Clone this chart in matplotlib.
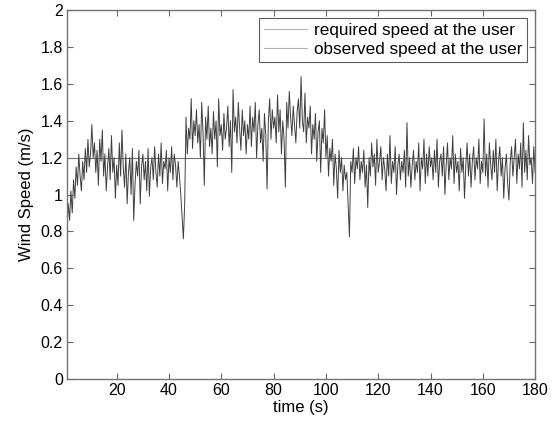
import numpy as np
import matplotlib
matplotlib.use("Agg")
import matplotlib.pyplot as plt

plt.rcParams['font.family'] = ['Liberation Sans', 'DejaVu Sans']

required_speed = 1.2
observed = [
    0.82,0.95,0.86,1.02,0.90,1.08,0.98,1.15,1.05,1.22,1.10,1.02,1.18,1.08,1.25,1.12,1.30,1.15,1.22,1.38,
    1.20,1.28,1.12,1.24,1.05,1.30,1.18,1.35,1.10,1.22,1.02,1.15,1.25,1.08,1.32,1.12,1.20,0.98,1.16,1.05,
    1.28,1.10,1.35,1.15,1.04,1.22,0.95,1.12,1.20,1.00,1.25,0.86,1.05,1.18,1.10,1.24,0.95,1.15,1.22,1.08,
    1.18,1.02,1.25,0.99,1.15,1.20,1.08,1.26,1.12,1.04,1.22,1.10,1.28,1.06,1.18,1.14,1.24,1.02,1.20,1.12,
    1.26,1.08,1.22,1.16,1.04,1.18,1.10,1.00,0.88,0.76,
    0.95,1.42,1.22,1.36,1.30,1.52,1.25,1.40,1.32,1.46,
    1.28,1.38,1.20,1.50,1.34,1.05,1.42,1.30,1.48,1.26,1.36,1.22,1.45,1.30,1.40,1.15,1.52,1.32,1.38,1.24,
    1.44,1.30,1.36,1.48,1.26,1.40,1.12,1.57,1.34,1.42,1.28,1.50,1.36,1.24,1.46,1.32,1.40,1.22,1.38,1.30,
    1.48,1.26,1.42,1.34,1.50,1.20,1.38,1.46,1.28,1.36,1.18,1.44,1.32,1.03,1.40,1.52,1.30,1.46,1.36,1.42,
    1.28,1.54,1.34,1.46,1.22,1.40,1.30,1.04,1.50,1.36,1.56,1.42,1.32,1.48,1.38,1.28,1.45,1.52,1.36,1.64,
    1.40,1.34,1.55,1.28,1.42,1.36,1.48,1.22,1.38,1.30,1.44,1.18,1.34,1.40,1.12,1.36,1.28,1.46,1.20,1.32,
    1.10,1.25,1.18,1.30,1.05,1.22,1.14,0.98,1.24,1.12,1.20,1.02,1.16,1.08,1.12,0.95,0.77,1.18,1.12,1.25,
    1.06,1.20,1.14,1.26,1.08,1.18,1.12,1.24,1.04,1.16,0.93,1.20,1.10,1.28,1.15,1.22,1.05,1.30,1.12,1.18,
    1.26,1.08,1.20,1.14,1.02,1.22,1.10,1.32,1.06,1.18,1.12,1.26,1.00,1.16,1.22,1.08,1.18,1.12,1.24,1.04,
    1.39,1.10,1.20,1.04,1.16,1.24,1.08,1.18,1.12,1.28,1.02,1.20,1.14,1.30,1.06,1.22,1.10,1.26,1.15,1.20,
    1.08,1.24,1.12,1.30,1.04,1.18,1.22,1.10,1.26,1.00,1.16,1.28,1.08,1.20,1.14,1.32,1.06,1.22,1.12,1.18,
    1.02,1.25,1.12,1.20,0.98,1.16,1.28,1.10,1.22,1.04,1.18,1.26,1.08,1.20,1.14,1.30,1.06,1.18,1.12,1.41,
    1.10,1.22,1.04,1.28,1.16,1.08,1.24,1.12,1.30,1.02,1.18,1.26,1.10,1.20,0.98,1.14,1.22,1.06,0.97,1.18,
    1.26,1.10,1.20,1.30,1.06,1.22,1.14,1.28,1.04,1.39,1.12,1.24,1.08,1.32,1.16,1.20,1.06,1.26,1.12,
]
t_start, t_end = 1.0, 180.0
time = np.linspace(t_start, t_end, len(observed))

xticks = [20, 40, 60, 80, 100, 120, 140, 160, 180]
yticks = [0, 0.2, 0.4, 0.6, 0.8, 1, 1.2, 1.4, 1.6, 1.8, 2]
ytick_labels = ['0', '0.2', '0.4', '0.6', '0.8', '1', '1.2', '1.4', '1.6', '1.8', '2']

fig = plt.figure(figsize=(5.52, 4.23), dpi=100)
ax = fig.add_axes([0.1214, 0.104, 0.848, 0.872])

ax.plot([t_start, t_end], [required_speed, required_speed], color='0.45', lw=0.8,
        label='required speed at the user')
ax.plot(time, observed, color='0.25', lw=0.7, label='observed speed at the user')

ax.set_xlim(t_start, t_end)
ax.set_ylim(0, 2)
ax.set_xticks(xticks)
ax.set_yticks(yticks)
ax.set_yticklabels(ytick_labels)
ax.tick_params(direction='in', top=True, right=True, length=4, labelsize=11.5,
               color='0.4', width=0.8, pad=3)
for s in ax.spines.values():
    s.set_color('0.45')
    s.set_linewidth(1.0)
ax.set_xlabel('time (s)', fontsize=12, labelpad=1)
ax.set_ylabel('Wind Speed (m/s)', fontsize=12, labelpad=5)

leg = ax.legend(loc='upper right', fontsize=12.3, frameon=True, fancybox=False,
                borderaxespad=0.45, handlelength=2.5, borderpad=0.3, labelspacing=0.25,
                handletextpad=0.4)
leg.get_frame().set_edgecolor('0.2')
leg.get_frame().set_linewidth(0.8)
for h in leg.get_lines():
    h.set_color('0.7')
    h.set_linewidth(0.8)

fig.savefig('out.png', dpi=100)
